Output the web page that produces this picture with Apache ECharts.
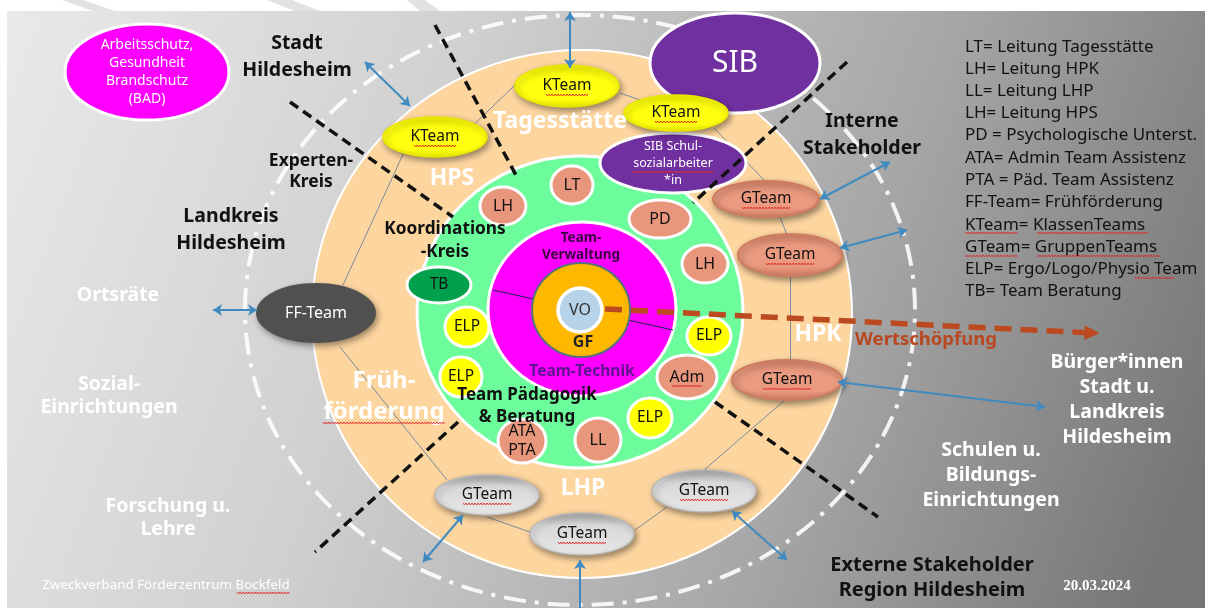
<!DOCTYPE html>
<html>
<head>
<meta charset="utf-8">
<script src="https://cdn.jsdelivr.net/npm/echarts@6/dist/echarts.min.js"></script>
<style>html,body{margin:0;padding:0;background:#fff}#c{width:1205px;height:608px}</style>
</head>
<body>
<div id="c"></div>
<script>
// ---------- DATA (diagram, in picture units) ----------
// Concentric organisation rings
const ringNames = ['Stakeholder-Grenze', 'Einrichtungen', 'Koordinations-Kreis', 'Team', 'GF', 'VO'];
const ringX  = [580, 582, 580, 582, 581, 580];
const ringY  = [310, 314, 312, 309, 310, 310];
const ringRX = [335, 270, 163, 94, 49, 22];
const ringRY = [295, 264, 156, 87, 47, 22];

// Team / role nodes
const nodeText = ['Arbeitsschutz,\nGesundheit\nBrandschutz\n(BAD)', 'SIB', 'SIB Schul-\nsozialarbeiter\n*in',
  'KTeam', 'KTeam', 'KTeam', 'GTeam', 'GTeam', 'GTeam', 'GTeam', 'GTeam', 'GTeam', 'FF-Team',
  'LH', 'LT', 'PD', 'LH', 'TB', 'ELP', 'ELP', 'ELP', 'Adm', 'ELP', 'LL', 'ATA\nPTA'];
const nodeKind = ['bad', 'sib', 'sib2', 'kteam', 'kteam', 'kteam', 'gsalmon', 'gsalmon', 'gsalmon',
  'ggrey', 'ggrey', 'ggrey', 'ff', 'lead', 'lead', 'lead', 'lead', 'tb', 'elp', 'elp', 'elp', 'lead', 'elp', 'lead', 'lead'];
const nodeX  = [147, 735, 673, 435, 567, 676, 766, 790, 787, 704, 582, 487, 316, 503, 572, 660, 705, 439, 467, 461, 709, 687, 650, 598, 522];
const nodeY  = [72, 63, 163, 137, 86, 113, 199, 255, 380, 491, 534, 495, 313, 206, 185, 219, 264, 285, 327, 377, 336, 377, 418, 440, 441];
const nodeRX = [82, 85, 73, 52, 52, 52, 53, 52, 55, 52, 52, 52, 60, 23, 21, 31, 23, 32, 22, 21, 22, 30, 22, 23, 24];
const nodeRY = [48, 50, 30, 20, 21, 18, 18, 21, 20, 21, 21, 20, 30, 19, 19, 19, 19, 18, 20, 20, 19, 22, 20, 22, 22];

// Thin connectors between the team nodes
const linkFrom = [[463, 135], [620, 93], [714, 128], [780, 217], [790, 276], [785, 400], [667, 507], [530, 532], [447, 480], [343, 285]];
const linkTo   = [[515, 85], [640, 100], [766, 182], [787, 235], [790, 360], [704, 470], [635, 530], [487, 517], [340, 347], [405, 150]];
const innerLine = [[493, 290], [673, 330]];

// Dashed sector dividers
const dividerFrom = [[290, 102], [435, 25], [847, 62], [715, 402], [458, 422]];
const dividerTo   = [[453, 217], [517, 177], [693, 203], [878, 517], [315, 552]];

// Blue double arrows (exchange with stakeholders)
const arrowFrom = [[570, 12], [365, 62], [820, 199], [840, 248], [838, 382], [213, 310], [463, 515], [580, 560], [732, 511]];
const arrowTo   = [[570, 68], [410, 106], [890, 162], [907, 230], [1045, 407], [257, 310], [423, 562], [580, 625], [787, 560]];

// Wertschöpfung arrow
const valueArrow = [[605, 309], [1092, 333]];

// Free labels
const labelText = ['Stadt\nHildesheim', 'Experten-\nKreis', 'Landkreis\nHildesheim', 'Ortsräte', 'Sozial-\nEinrichtungen',
  'Forschung u.\nLehre', 'Interne\nStakeholder', 'Bürger*innen\nStadt u.\nLandkreis\nHildesheim', 'Schulen u.\nBildungs-\nEinrichtungen',
  'Externe Stakeholder\nRegion Hildesheim', 'Tagesstätte', 'HPS', 'HPK', 'Früh-\nförderung', 'LHP', 'Koordinations\n-Kreis',
  'Team-\nVerwaltung', 'Team-Technik', 'GF', 'VO', 'Team Pädagogik\n& Beratung', 'Wertschöpfung',
  'Zweckverband Förderzentrum Bockfeld', '20.03.2024'];
const labelKind = ['dark', 'darkS', 'dark', 'lightS', 'lightS', 'lightS', 'dark', 'light', 'lightM', 'darkM',
  'ring', 'ring', 'ring', 'ringL', 'ring', 'koord', 'verw', 'tech', 'gf', 'vo', 'paed', 'wert', 'foot', 'date'];
const labelX = [297, 311, 231, 118, 109, 168, 862, 1117, 991, 932, 560, 452, 818, 384, 583, 445, 581, 582, 583, 580, 527, 926, 166, 1097];
const labelY = [57, 172, 230, 295, 396, 518, 135, 400, 475, 578, 121, 178, 334, 397, 488, 241, 247, 372, 342, 310, 406, 340, 585, 586];

// Abbreviation list
const legendLines = ['LT= Leitung Tagesstätte', 'LH= Leitung HPK', 'LL= Leitung LHP', 'LH= Leitung HPS',
  'PD = Psychologische Unterst.', 'ATA= Admin Team Assistenz', 'PTA = Päd. Team Assistenz', 'FF-Team= Frühförderung',
  'KTeam= KlassenTeams', 'GTeam= GruppenTeams', 'ELP= Ergo/Logo/Physio Team', 'TB= Team Beratung'];
const legendX = 965;
const legendY = [47, 69, 91, 113, 135, 158, 180, 202, 225, 247, 269, 291];

// Spell-check squiggles of the screenshot: start x, end x, y
const squiggleX1 = [414, 546, 655, 742, 766, 763, 680, 558, 463, 672, 323, 237, 632, 965, 1037, 965, 1037, 1135];
const squiggleX2 = [457, 589, 698, 790, 814, 811, 728, 606, 511, 703, 445, 290, 713, 1018, 1148, 1018, 1160, 1175];
const squiggleY  = [146, 95, 122, 208, 264, 389, 500, 543, 504, 386, 423, 593, 172, 233, 233, 256, 256, 278];

// ---------- STYLES ----------
const FONT = '"Noto Sans", "Open Sans", sans-serif';
const vgrad = (stops) => ({type: 'linear', x: 0, y: 0, x2: 0, y2: 1, colorStops: stops.map(s => ({offset: s[0], color: s[1]}))});
const ringStyle = [
  {fill: 'none', stroke: 'rgba(255,255,255,0.88)', lineWidth: 4, lineDash: [22, 9, 4, 9]},
  {fill: '#fdd59f', stroke: '#ffffff', lineWidth: 2},
  {fill: '#6cfc9b', stroke: '#ffffff', lineWidth: 3},
  {fill: '#ff00ff', stroke: '#ffffff', lineWidth: 3},
  {fill: '#ffb800', stroke: '#56707c', lineWidth: 2},
  {fill: '#b7d3e9', stroke: '#ffffff', lineWidth: 3.5}
];
const nodeStyle = {
  bad:     {fill: '#ff00ff', stroke: '#fff', lw: 3, color: '#fff', size: 14, lh: 18, weight: 'normal'},
  sib:     {fill: '#7030a0', stroke: '#fff', lw: 3, color: '#fff', size: 30, lh: 34, weight: 'normal'},
  sib2:    {fill: '#7030a0', stroke: '#fff', lw: 3, color: '#fff', size: 12.5, lh: 17, weight: 'normal'},
  kteam:   {fill: vgrad([[0, '#f2f200'], [0.3, '#ffff10'], [0.8, '#ffff10'], [1, '#e6e600']]), stroke: '#e8e800', lw: 1.5, color: '#111', size: 15.5, lh: 18, weight: 'normal', shadow: true},
  gsalmon: {fill: vgrad([[0, '#d9846a'], [0.3, '#ea9a7f'], [0.75, '#ea9a7f'], [1, '#d07a60']]), stroke: '#cf7c62', lw: 2, color: '#111', size: 15.5, lh: 18, weight: 'normal', shadow: true},
  ggrey:   {fill: vgrad([[0, '#a4a4a4'], [0.3, '#d8d8d8'], [1, '#e8e8e8']]), stroke: '#b8b8b8', lw: 1.5, color: '#111', size: 15.5, lh: 18, weight: 'normal', shadow: true},
  ff:      {fill: '#505050', stroke: null, lw: 0, color: '#fff', size: 16, lh: 18, weight: 'normal', shadow: true},
  lead:    {fill: '#e8977c', stroke: '#fff', lw: 3, color: '#111', size: 16, lh: 19, weight: 'normal'},
  tb:      {fill: '#00a04c', stroke: '#fff', lw: 3, color: '#111', size: 15.5, lh: 18, weight: 'normal'},
  elp:     {fill: '#ffff00', stroke: '#fff', lw: 3, color: '#111', size: 15.5, lh: 18, weight: 'normal'}
};
const labelStyle = {
  dark:   {color: '#111', size: 19.5, lh: 27, weight: 'bold'},
  darkS:  {color: '#111', size: 17.5, lh: 21, weight: 'bold'},
  darkM:  {color: '#111', size: 20, lh: 25, weight: 'bold'},
  light:  {color: '#fff', size: 19.5, lh: 25, weight: 'bold'},
  lightM: {color: '#fff', size: 19.5, lh: 25, weight: 'bold'},
  lightS: {color: '#fff', size: 19.5, lh: 23, weight: 'bold'},
  ring:   {color: '#fff', size: 23, lh: 30, weight: 'bold'},
  ringL:  {color: '#fff', size: 24, lh: 31, weight: 'bold'},
  koord:  {color: '#111', size: 17.3, lh: 23, weight: 'bold'},
  verw:   {color: '#3a0040', size: 13.5, lh: 17, weight: 'bold'},
  tech:   {color: '#5e1690', size: 15.5, lh: 18, weight: 'bold'},
  gf:     {color: '#222', size: 16, lh: 18, weight: 'bold'},
  vo:     {color: '#333', size: 16, lh: 18, weight: 'normal'},
  paed:   {color: '#111', size: 17, lh: 22, weight: 'bold'},
  wert:   {color: '#b9471f', size: 18.5, lh: 22, weight: 'bold'},
  foot:   {color: '#fff', size: 13.4, lh: 14, weight: 'normal'},
  date:   {color: '#fff', size: 15, lh: 14, weight: 'bold', family: '"Liberation Serif", serif'}
};

// ---------- CHART ----------
function ellipseRender(styleOf, textOf) {
  return function (params, api) {
    const c = api.coord([api.value(0), api.value(1)]);
    const s = api.size([api.value(2), api.value(3)]);
    const st = styleOf(params.dataIndex);
    const children = [{
      type: 'ellipse',
      shape: {cx: c[0], cy: c[1], rx: s[0], ry: s[1]},
      style: {fill: st.fill, stroke: st.stroke || null, lineWidth: st.lw || st.lineWidth || 0, lineDash: st.lineDash || null,
        shadowBlur: st.shadow ? 6 : 0, shadowColor: 'rgba(0,0,0,0.4)', shadowOffsetX: st.shadow ? 2 : 0, shadowOffsetY: st.shadow ? 3 : 0}
    }];
    const t = textOf ? textOf(params.dataIndex) : null;
    if (t) {
      children.push({type: 'text', x: c[0], y: c[1], style: {text: t, fill: st.color, font: `${st.weight} ${st.size}px ${FONT}`,
        lineHeight: st.lh, align: 'center', verticalAlign: 'middle'}});
    }
    return {type: 'group', children};
  };
}
function ringSeries(indices, z) {
  return {
    type: 'custom', z, silent: true, clip: false,
    data: indices.map(i => [ringX[i], ringY[i], ringRX[i], ringRY[i], i]),
    renderItem: (params, api) => ellipseRender(() => {
      const r = ringStyle[api.value(4)];
      return {fill: r.fill, stroke: r.stroke, lw: r.lineWidth, lineDash: r.lineDash};
    })(params, api)
  };
}
function segs(from, to) { return from.map((p, i) => ({coords: [p, to[i]]})); }

const option = {
  animation: false,
  backgroundColor: '#ffffff',
  grid: {left: 0, right: 0, top: 0, bottom: 0},
  xAxis: {type: 'value', min: 0, max: 1205, show: false},
  yAxis: {type: 'value', min: 0, max: 608, inverse: true, show: false},
  graphic: [
    {type: 'rect', z: -20, silent: true, shape: {x: 7, y: 11, width: 1198, height: 597},
      style: {fill: {type: 'linear', x: 0, y: 0, x2: 1, y2: 0.75, colorStops: [
        {offset: 0, color: '#e9e9e9'}, {offset: 0.35, color: '#d0d0d0'}, {offset: 0.7, color: '#a6a6a6'}, {offset: 1, color: '#767676'}]}}},
    {type: 'polygon', z: -19, silent: true, shape: {points: [[62, 0], [83, 0], [115, 11], [93, 11]]}, style: {fill: '#e2e2e2'}},
    {type: 'polygon', z: -19, silent: true, shape: {points: [[267, 0], [292, 0], [320, 11], [295, 11]]}, style: {fill: '#e2e2e2'}},
    {type: 'polygon', z: -19, silent: true, shape: {points: [[407, 0], [425, 0], [440, 11], [420, 11]]}, style: {fill: '#e2e2e2'}}
  ],
  series: [
    ringSeries([0, 1], 2),
    {type: 'lines', coordinateSystem: 'cartesian2d', z: 3, silent: true, symbol: 'none',
      lineStyle: {color: '#7b8c9c', width: 1, opacity: 1}, data: segs(linkFrom, linkTo)},
    ringSeries([2, 3], 4),
    {type: 'lines', coordinateSystem: 'cartesian2d', z: 5, silent: true, symbol: 'none',
      lineStyle: {color: '#2a2050', width: 1.2, opacity: 1}, data: [{coords: innerLine}]},
    ringSeries([4, 5], 6),
    {type: 'custom', z: 7, silent: true, clip: false,
      data: nodeX.map((x, i) => [x, nodeY[i], nodeRX[i], nodeRY[i]]),
      renderItem: ellipseRender(i => nodeStyle[nodeKind[i]], i => nodeText[i])},
    {type: 'lines', coordinateSystem: 'cartesian2d', z: 8, silent: true, symbol: 'none',
      lineStyle: {color: '#111', width: 3.5, type: [10, 6], opacity: 1}, data: segs(dividerFrom, dividerTo)},
    {type: 'lines', coordinateSystem: 'cartesian2d', z: 9, silent: true, symbol: ['arrow', 'arrow'], symbolSize: 9,
      lineStyle: {color: '#3f8bc0', width: 2, opacity: 1}, data: segs(arrowFrom, arrowTo)},
    {type: 'lines', coordinateSystem: 'cartesian2d', z: 9, silent: true, symbol: ['none', 'triangle'], symbolSize: 15,
      lineStyle: {color: '#bb4a20', width: 5.5, type: [17, 9], opacity: 1}, data: [{coords: valueArrow}]},
    {type: 'custom', z: 10, silent: true, clip: false,
      data: labelX.map((x, i) => [x, labelY[i]]),
      renderItem: (params, api) => {
        const i = params.dataIndex;
        const p = api.coord([api.value(0), api.value(1)]);
        const k = labelStyle[labelKind[i]];
        return {type: 'text', x: p[0], y: p[1], style: {text: labelText[i], fill: k.color,
          font: `${k.weight} ${k.size}px ${k.family || FONT}`, lineHeight: k.lh, align: 'center', verticalAlign: 'middle'}};
      }},
    {type: 'custom', z: 10, silent: true, clip: false,
      data: legendY.map(y => [legendX, y]),
      renderItem: (params, api) => {
        const p = api.coord([api.value(0), api.value(1)]);
        return {type: 'text', x: p[0], y: p[1], style: {text: legendLines[params.dataIndex], fill: '#111',
          font: `normal 17px ${FONT}`, align: 'left', verticalAlign: 'middle'}};
      }},
    {type: 'custom', z: 11, silent: true, clip: false,
      data: squiggleX1.map((x, i) => [x, squiggleY[i], squiggleX2[i]]),
      renderItem: (params, api) => {
        const a = api.coord([api.value(0), api.value(1)]);
        const b = api.coord([api.value(2), api.value(1)]);
        const pts = [];
        for (let x = a[0], k = 0; x <= b[0]; x += 1.5, k++) pts.push([x, a[1] + (k % 2 ? 1 : -1)]);
        return {type: 'polyline', shape: {points: pts}, style: {stroke: '#e02828', lineWidth: 0.9, fill: null}};
      }}
  ]
};
const chart = echarts.init(document.getElementById('c'));
chart.setOption(option);
</script>
</body>
</html>
